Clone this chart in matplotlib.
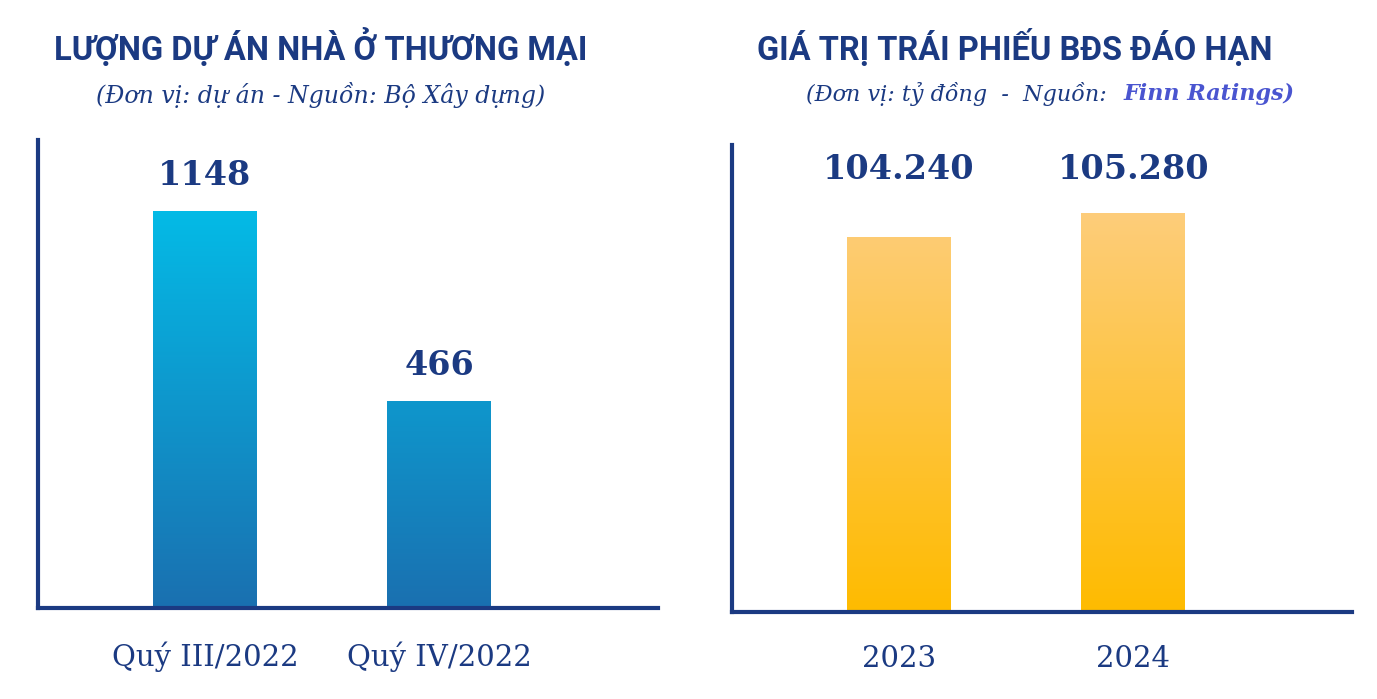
import numpy as np
import matplotlib.pyplot as plt
from matplotlib.colors import LinearSegmentedColormap

left_cats = ["Quý III/2022", "Quý IV/2022"]
left_vals = [1148, 466]
right_cats = ["2023", "2024"]
right_vals = [104240, 105280]
right_labels = ["104.240", "105.280"]

navy = "#1b3a82"
fig = plt.figure(figsize=(13.77, 6.99), dpi=100)

def panel(rect, cats, vals, labels, base, top, c_top, c_bot, label_y=None):
    ax = fig.add_axes(rect)
    x = np.arange(len(cats))
    cmap = LinearSegmentedColormap.from_list("g", [c_bot, c_top])
    bars = ax.bar(x, np.array(vals) - base, bottom=base, width=0.443, color="none")
    grad = np.linspace(0, 1, 256).reshape(-1, 1)
    for b in bars:
        im = ax.imshow(grad, cmap=cmap, origin="lower", aspect="auto",
                       extent=[b.get_x(), b.get_x() + b.get_width(), base, top], zorder=2)
        im.set_clip_path(b)
    for xi, v, lab in zip(x, vals, labels):
        y = label_y if label_y is not None else v + (top - base) * 0.04
        ax.text(xi, y, lab, ha="center", va="bottom",
                fontsize=24, fontweight="bold", family="DejaVu Serif", color=navy)
    ax.set_xlim(-0.712, 1.932)
    ax.set_ylim(base, top)
    ax.set_xticks(x)
    ax.set_xticklabels(cats, fontsize=21, family="DejaVu Serif", color=navy)
    ax.tick_params(axis="x", length=0, pad=24)
    ax.set_yticks([])
    for s in ["top", "right"]:
        ax.spines[s].set_visible(False)
    for s in ["left", "bottom"]:
        ax.spines[s].set_color(navy)
        ax.spines[s].set_linewidth(3)
    return ax

panel([0.0276, 0.130, 0.450, 0.670], left_cats, left_vals, [str(v) for v in left_vals],
      -277, 1403, "#00c8f0", "#1a70b0")
panel([0.5316, 0.1245, 0.450, 0.668], right_cats, right_vals, right_labels,
      87990, 108224, "#fdd08f", "#ffbb00", label_y=106440)

fig.text(0.233, 0.932, "LƯỢNG DỰ ÁN NHÀ Ở THƯƠNG MẠI", ha="center", va="center",
         fontsize=23.5, fontweight="bold", family="Roboto", color=navy)
fig.text(0.233, 0.864, "(Đơn vị: dự án - Nguồn: Bộ Xây dựng)", ha="center", va="center",
         fontsize=17, style="italic", family="DejaVu Serif", color=navy)
fig.text(0.737, 0.932, "GIÁ TRỊ TRÁI PHIẾU BĐS ĐÁO HẠN", ha="center", va="center",
         fontsize=23.5, fontweight="bold", family="Roboto", color=navy)
fig.text(0.585, 0.866, "(Đơn vị: tỷ đồng  -  Nguồn:", ha="left", va="center",
         fontsize=16, style="italic", family="DejaVu Serif", color=navy)
fig.text(0.816, 0.866, "Finn Ratings)", ha="left", va="center",
         fontsize=16, style="italic", fontweight="bold", family="DejaVu Serif", color="#4a55d0")

fig.savefig("out.png", dpi=100)
